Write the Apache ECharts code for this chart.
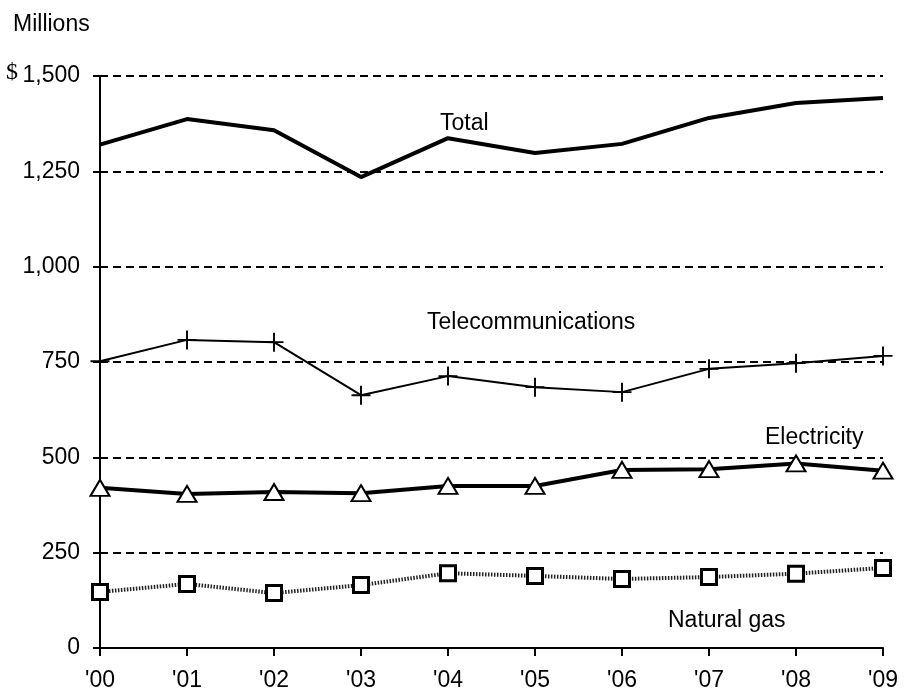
<!DOCTYPE html>
<html>
<head>
<meta charset="utf-8">
<script src="https://cdn.jsdelivr.net/npm/echarts@6/dist/echarts.min.js"></script>
<style>
  html, body { margin: 0; padding: 0; background: #fff; }
  #chart { width: 907px; height: 694px; }
</style>
</head>
<body>
<div id="chart"></div>
<script>
const years = ["'00", "'01", "'02", "'03", "'04", "'05", "'06", "'07", "'08", "'09"];
const total = [1320, 1387, 1358, 1235, 1337, 1298, 1322, 1390, 1429, 1442];
const telecom = [752, 808, 802, 663, 713, 684, 671, 732, 747, 766];
const electricity = [420, 404, 409, 406, 425, 425, 467, 469, 484, 465];
const naturalGas = [147, 168, 144, 165, 196, 189, 181, 186, 195, 210];

const font = "'Liberation Sans', Arial, Helvetica, sans-serif";
const plusPath = 'path://M9,0H11V9H20V11H11V20H9V11H0V9H9Z';

// series names drawn next to the lines (x, y = left edge, cap middle)
const label = (text, x, y) => ({
  type: 'text', x: x, y: y,
  style: { text: text, font: '23px ' + font, fill: '#000', verticalAlign: 'middle' }
});

const myChart = echarts.init(document.getElementById('chart'));

const option = {
  backgroundColor: '#fff',
  animation: false,
  grid: { left: 100, right: 24, top: 76, bottom: 46 },
  xAxis: {
    type: 'category',
    data: years,
    boundaryGap: false,
    axisLine: { lineStyle: { color: '#000', width: 2 } },
    axisTick: { length: 8, lineStyle: { color: '#000', width: 2 } },
    axisLabel: { color: '#000', fontFamily: font, fontSize: 23, margin: 21 },
    splitLine: { show: false }
  },
  yAxis: [
    {
      type: 'value',
      min: 0,
      max: 1500,
      interval: 250,
      axisLine: { show: true, lineStyle: { color: '#000', width: 2 } },
      axisTick: { show: true, length: 7, lineStyle: { color: '#000', width: 2 } },
      axisLabel: {
        color: '#000', fontFamily: font, fontSize: 23, margin: 20,
        formatter: v => v.toLocaleString('en-US')
      },
      splitLine: { show: true, lineStyle: { color: '#000', width: 2, type: [8, 5] } }
    },
    {
      type: 'value',
      position: 'left',
      min: 0,
      max: 1500,
      interval: 250,
      axisLine: { show: false },
      axisTick: { show: true, inside: true, length: 5, lineStyle: { color: '#000', width: 2 } },
      axisLabel: { show: false },
      splitLine: { show: false }
    }
  ],
  graphic: [
    label('Millions', 13, 25),
    {
      type: 'text', x: 6, y: 73,
      style: { text: '$', font: '24px "Liberation Serif", "DejaVu Serif", serif', fill: '#000', verticalAlign: 'middle' }
    },
    label('Total', 440, 124),
    label('Telecommunications', 427, 323),
    label('Electricity', 765, 438),
    label('Natural gas', 668, 621)
  ],
  series: [
    {
      name: 'Total',
      type: 'line',
      data: total,
      symbol: 'none',
      lineStyle: { color: '#000', width: 4 },
      z: 5
    },
    {
      name: 'Telecommunications',
      type: 'line',
      data: telecom,
      symbol: plusPath,
      symbolSize: 19,
      itemStyle: { color: '#000' },
      lineStyle: { color: '#000', width: 2 },
      z: 5
    },
    {
      name: 'Electricity',
      type: 'line',
      data: electricity,
      symbol: 'triangle',
      symbolSize: [19, 16],
      itemStyle: { color: '#fff', borderColor: '#000', borderWidth: 2 },
      lineStyle: { color: '#000', width: 4 },
      z: 5
    },
    {
      name: 'Natural gas',
      type: 'line',
      data: naturalGas,
      symbol: 'rect',
      symbolSize: 15,
      itemStyle: { color: '#fff', borderColor: '#000', borderWidth: 3 },
      lineStyle: { color: '#222', width: 4, type: [1.5, 1.5] },
      z: 5
    }
  ]
};

option && myChart.setOption(option);
</script>
</body>
</html>
